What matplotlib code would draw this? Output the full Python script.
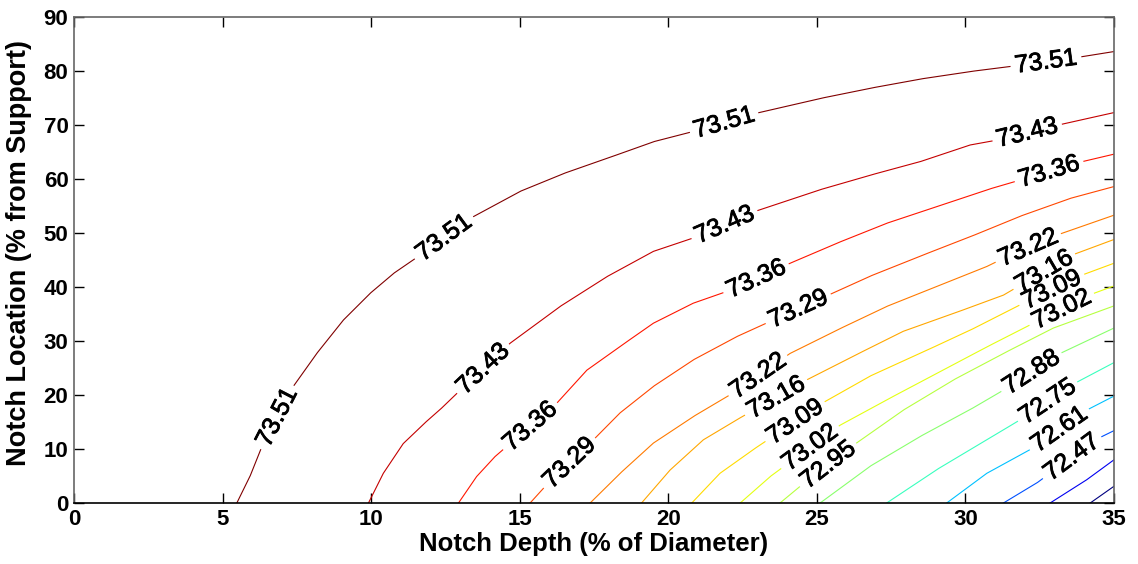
import numpy as np
import matplotlib.pyplot as plt
from matplotlib import colors
from matplotlib import patheffects

plt.rcParams['font.family'] = ['Liberation Sans', 'DejaVu Sans']

# contour levels (top to bottom)
levels = [73.51, 73.43, 73.36, 73.29, 73.22, 73.16, 73.09, 73.02,
          72.95, 72.88, 72.75, 72.61, 72.47, 72.33, 72.20]

# contour lines, one list per level
line_x = [
    [5.48, 5.92, 6.32, 7.33, 8.17, 9.07, 9.96, 10.75, 11.65, 13.33, 15.01, 16.47,
     17.93, 19.5, 20.84, 22.98, 25.1, 26.79, 28.47, 30.16, 31.6, 33.75, 35],
    [9.91, 10.41, 11.08, 11.8, 12.32, 13.0, 14.68, 16.36, 17.93, 19.5, 20.96,
     22.92, 25.1, 26.79, 28.47, 30.16, 31.06, 33.13, 35],
    [12.94, 13.55, 14.17, 16.25, 17.26, 18.38, 19.5, 20.84, 22.19, 24.1, 25.67,
     27.35, 29.04, 30.72, 31.84, 33.92, 35],
    [15.35, 15.96, 17.48, 18.38, 19.5, 20.84, 22.3, 23.54, 25.39, 26.79, 28.47,
     30.16, 31.84, 33.52, 35],
    [17.37, 18.38, 19.5, 20.84, 22.19, 24.1, 25.67, 27.35, 29.04, 30.72, 31.28,
     33.07, 35],
    [19.1, 20.06, 21.18, 22.3, 24.66, 26.23, 27.91, 29.6, 31.28, 33.58, 35],
    [20.79, 21.74, 22.86, 25.28, 26.79, 28.47, 30.16, 31.95, 33.92, 35],
    [22.42, 23.43, 25.78, 27.35, 29.04, 30.72, 32.29, 34.31, 35],
    [23.76, 24.44, 26.23, 27.91, 29.6, 31.28, 32.96, 35],
    [25.11, 26.79, 28.47, 30.16, 31.28, 33.19, 35],
    [27.35, 29.04, 30.72, 31.84, 33.69, 35],
    [29.37, 30.72, 32.18, 34.08, 35],
    [31.28, 32.4, 34.37, 35],
    [32.85, 34.08, 35],
    [34.2, 35],
]
line_y = [
    [0, 4.9, 10.4, 21.2, 27.7, 33.9, 38.8, 42.5, 45.9, 52.7, 57.7, 61.0,
     63.8, 66.9, 68.8, 72.2, 74.9, 76.8, 78.5, 79.9, 80.9, 82.5, 83.6],
    [0, 5.5, 11.0, 14.8, 17.3, 20.9, 29.6, 36.4, 41.9, 46.6, 49.3,
     54.0, 58.0, 60.7, 63.2, 66.3, 67.2, 70.0, 72.3],
    [0, 4.9, 8.6, 18.5, 24.6, 29.0, 33.3, 37.0, 39.6, 44.4, 48.1,
     51.8, 54.9, 58.0, 59.8, 63.2, 64.6],
    [0, 3.7, 11.7, 16.7, 21.6, 26.5, 30.8, 33.9, 38.5, 42.0, 45.7,
     49.3, 53.1, 56.4, 58.6],
    [0, 5.5, 11.1, 16.0, 20.4, 27.7, 32.0, 36.4, 40.1, 43.8, 45.3,
     49.6, 53.3],
    [0, 6.1, 11.7, 15.4, 22.8, 27.2, 31.8, 35.1, 38.5, 45.9, 48.8],
    [0, 5.5, 9.9, 18.8, 23.5, 27.7, 32.0, 37.0, 42.2, 44.4],
    [0, 4.9, 14.4, 19.1, 24.0, 28.9, 33.3, 38.8, 40.2],
    [0, 3.1, 10.7, 17.2, 22.8, 27.7, 32.4, 36.5],
    [0, 6.8, 12.3, 17.3, 20.9, 27.7, 32.4],
    [0, 6.2, 11.7, 15.4, 22.2, 26.0],
    [0, 5.5, 9.9, 17.2, 19.8],
    [0, 3.7, 11.7, 13.4],
    [0, 4.3, 8.0],
    [0, 3.1],
]

# inline labels: which line, and roughly where
label_line = [0, 0, 0, 0, 1, 1, 1, 2, 2, 2, 3, 3, 4, 4, 5, 5, 6, 6, 7, 7,
              8, 9, 10, 11, 12]
label_x = [6.88, 12.5, 21.91, 32.74, 13.86, 21.91, 32.09, 15.4, 22.98, 32.87,
           16.75, 24.41, 22.98, 32.12, 23.7, 32.57, 24.35, 32.94, 24.83, 33.3,
           25.45, 32.23, 32.76, 33.2, 33.58]
label_y = [15.7, 48.7, 70.0, 81.1, 24.3, 51.3, 68.1, 13.9, 41.3, 60.7,
           7.1, 35.4, 24.0, 47.2, 18.8, 43.5, 14.3, 39.1, 9.8, 35.2,
           6.5, 24.1, 18.8, 13.3, 8.5]

W, H = 1138, 564
fig = plt.figure(figsize=(W / 100, H / 100), dpi=100)
ax = fig.add_axes([74 / W, 61 / H, 1040 / W, 486 / H])
ax.set_xlim(0, 35)
ax.set_ylim(0, 90)

cmap = plt.get_cmap('jet')
norm = colors.Normalize(vmin=min(levels), vmax=max(levels))


def densify(p):
    out = [p[0]]
    for a, b in zip(p[:-1], p[1:]):
        n = max(int(np.hypot(*(b - a))), 1)
        t = np.linspace(0, 1, n + 1)[1:]
        out.extend(a + (b - a) * t[:, None])
    return np.array(out)


gap = 36  # px, half length of a label
stroke = [patheffects.withStroke(linewidth=0.6, foreground='black')]
to_data = ax.transData.inverted()
for i, lev in enumerate(levels):
    pts = ax.transData.transform(np.c_[line_x[i], line_y[i]])
    d = densify(pts)
    keep = np.ones(len(d), bool)
    for j, li in enumerate(label_line):
        if li != i:
            continue
        c = ax.transData.transform((label_x[j], label_y[j]))
        k = int(np.argmin(np.hypot(*(d - c).T)))
        a, b = d[max(k - 4, 0)], d[min(k + 4, len(d) - 1)]
        ang = np.degrees(np.arctan2(b[1] - a[1], b[0] - a[0]))
        if ang > 90:
            ang -= 180
        elif ang < -90:
            ang += 180
        keep &= np.hypot(*(d - d[k]).T) > gap
        cx, cy = to_data.transform(d[k])
        ax.text(cx, cy, f'{lev:.2f}', rotation=ang, rotation_mode='anchor',
                ha='center', va='center', fontsize=18, color='black',
                path_effects=stroke)
    d[~keep] = np.nan
    xy = to_data.transform(d)
    ax.plot(xy[:, 0], xy[:, 1], color=cmap(norm(lev)), lw=0.8)

ax.set_xticks(range(0, 36, 5))
ax.set_yticks(range(0, 91, 10))
ax.tick_params(direction='in', length=7, width=1, top=True, right=True,
               labelsize=16, pad=4)
for t in ax.get_xticklabels() + ax.get_yticklabels():
    t.set_fontweight('bold')
for s in ['left', 'top', 'right']:
    ax.spines[s].set_color('#666666')
ax.spines['bottom'].set_color('black')
for s in ax.spines.values():
    s.set_linewidth(1.2)

ax.set_xlabel('Notch Depth (% of Diameter)', fontsize=18.5, fontweight='bold')
ax.xaxis.set_label_coords(0.5, -0.06)
ax.set_ylabel('Notch Location (% from Support)', fontsize=19.5,
              fontweight='bold')
ax.yaxis.set_label_coords(-0.04, 0.514)

fig.savefig('out.png', dpi=100)
